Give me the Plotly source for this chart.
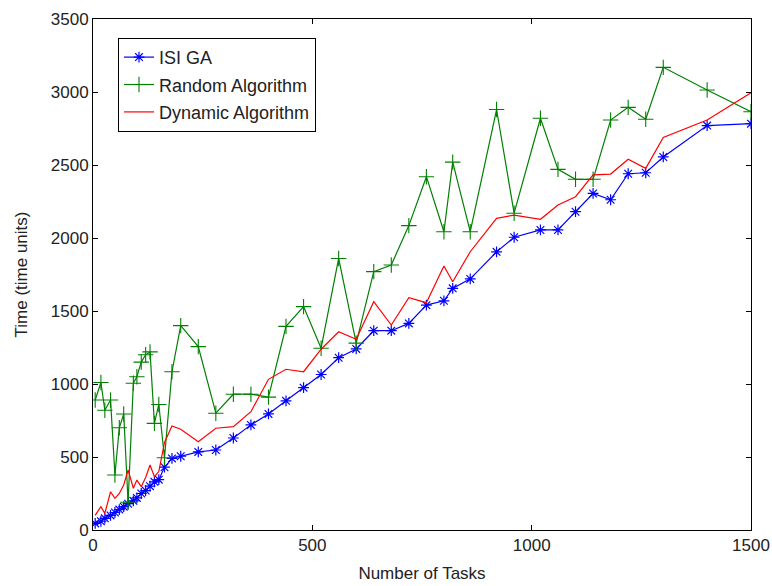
import plotly.graph_objects as go

tasks = [5, 18, 27, 40, 50, 60, 70, 80, 92, 100, 110, 120, 130, 140, 150, 163,
         180, 200, 240, 280, 320, 360, 400, 440, 480, 520, 560, 600, 640, 680,
         720, 760, 800, 820, 860, 920, 960, 1020, 1060, 1100, 1140, 1180, 1220,
         1260, 1300, 1400, 1500]

isi_ga = [45, 60, 80, 100, 120, 140, 160, 180, 200, 220, 250, 270, 300, 330, 345, 430,
          490, 505, 535, 548, 630, 720, 795, 885, 975, 1065, 1180, 1240, 1365, 1365,
          1415, 1540, 1570, 1655, 1720, 1905, 2005, 2055, 2055, 2180, 2305, 2262, 2440,
          2447, 2555, 2770, 2783]

random_alg = [890, 1010, 820, 890, 377, 700, 795, 190, 1005, 1050, 1150, 1200, 1220, 730, 860, 495,
              1084, 1400, 1256, 800, 930, 930, 910, 1395, 1530, 1245, 1860, 1280, 1770, 1815,
              2085, 2420, 2043, 2520, 2043, 2880, 2170, 2820, 2470, 2402, 2402, 2808, 2895,
              2813, 3169, 3014, 2865]

dynamic_alg = [100, 160, 114, 262, 217, 250, 308, 411, 286, 342, 297, 360, 445, 365, 400, 600,
               712, 690, 605, 697, 708, 810, 1032, 1101, 1084, 1238, 1358, 1306, 1564, 1404,
               1591, 1557, 1808, 1700, 1906, 2135, 2157, 2128, 2226, 2283, 2432, 2438, 2539,
               2477, 2689, 2808, 2995]

x_ticks = [0, 500, 1000, 1500]
y_ticks = [0, 500, 1000, 1500, 2000, 2500, 3000, 3500]

font = "Liberation Sans, Arial, sans-serif"

fig = go.Figure()
fig.add_trace(go.Scatter(
    x=tasks, y=isi_ga, name="ISI GA", mode="lines+markers", legendgroup="a",
    line=dict(color="#0000ff", width=1.2),
    marker=dict(symbol="asterisk-open", size=9, color="#0000ff",
                line=dict(color="#0000ff", width=1.2))))
fig.add_trace(go.Scatter(
    x=tasks, y=random_alg, name="Random Algorithm", mode="lines+markers", legendgroup="b",
    line=dict(color="#008000", width=1.2),
    marker=dict(symbol="cross-thin-open", size=11, color="#008000",
                line=dict(color="#008000", width=1.1))))
fig.add_trace(go.Scatter(
    x=tasks, y=dynamic_alg, name="Dynamic Algorithm", mode="lines", legendgroup="c",
    line=dict(color="#ff0000", width=1.2)))

axis_common = dict(
    showline=True, linecolor="black", linewidth=1, mirror="ticks",
    ticks="inside", ticklen=5, tickcolor="black", tickwidth=1,
    showgrid=False, zeroline=False, automargin=False,
    tickfont=dict(family=font, size=17, color="#222222"),
)

fig.update_layout(
    width=772, height=586,
    margin=dict(l=93, r=21, t=19, b=56),
    paper_bgcolor="white", plot_bgcolor="white",
    font=dict(family=font, color="black"),
    xaxis=dict(range=[0, 1500], tickvals=x_ticks,
               title=dict(text="Number of Tasks", font=dict(family=font, size=17, color="#222222"), standoff=12),
               **axis_common),
    yaxis=dict(range=[0, 3500], tickvals=y_ticks,
               title=dict(text="Time (time units)", font=dict(family=font, size=17, color="#222222"), standoff=18),
               **axis_common),
    legend=dict(x=0.038, y=0.963, xanchor="left", yanchor="top",
                bgcolor="white", bordercolor="black", borderwidth=1,
                font=dict(family=font, size=18, color="#222222"),
                tracegroupgap=1, traceorder="grouped", entrywidth=215),
    showlegend=True,
)

fig.write_html("out.html")
